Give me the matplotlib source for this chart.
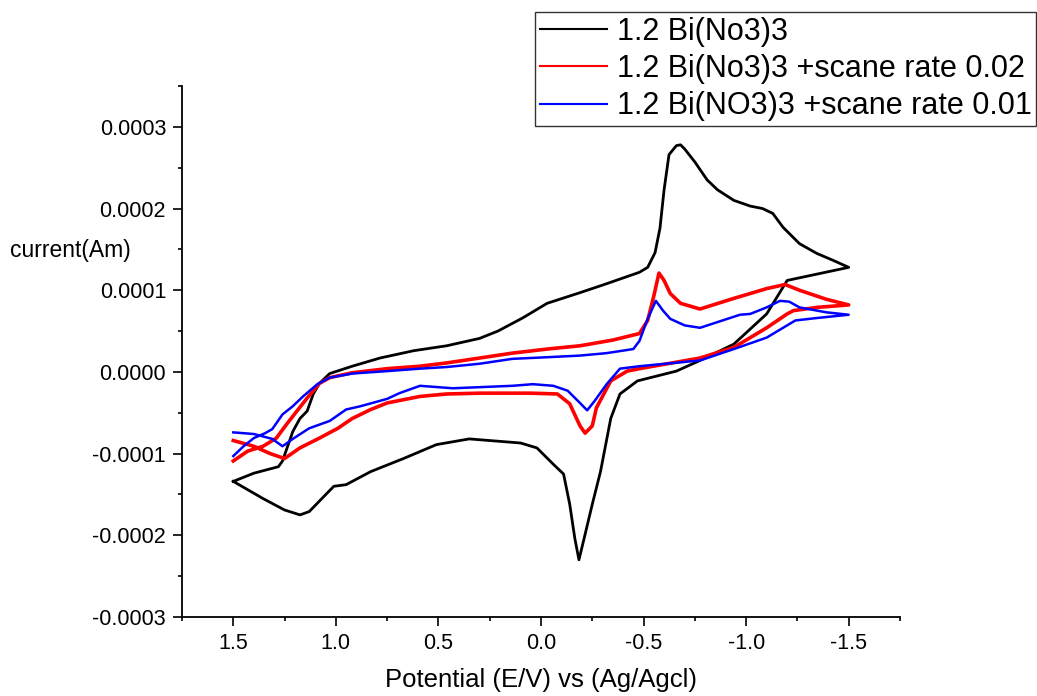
import matplotlib
matplotlib.use("Agg")
import matplotlib.pyplot as plt
from matplotlib.ticker import MultipleLocator, FormatStrFormatter

plt.rcParams['font.family'] = ['Liberation Sans', 'DejaVu Sans']
plt.rcParams['axes.unicode_minus'] = False

black_E = [1.50, 1.40, 1.28, 1.26, 1.21, 1.175, 1.14, 1.11, 1.08, 1.03, 0.92, 0.785,
           0.62, 0.46, 0.30, 0.21, 0.09, -0.03, -0.19, -0.32, -0.48, -0.52, -0.556,
           -0.58, -0.60, -0.624, -0.66, -0.68, -0.70, -0.75, -0.81, -0.86, -0.94, -1.02, -1.08,
           -1.13, -1.18, -1.26, -1.345, -1.42, -1.50, -1.20, -1.10, -0.94, -0.775, -0.66,
           -0.47, -0.385, -0.34, -0.29, -0.25, -0.21, -0.185, -0.165, -0.14, -0.11, -0.06,
           0.02, 0.10, 0.20, 0.35, 0.51, 0.67, 0.83, 0.95, 1.01, 1.13, 1.175, 1.25, 1.355, 1.50]
black_I = [-1.34, -1.24, -1.16, -1.09, -0.73, -0.57, -0.48, -0.27, -0.14, -0.02, 0.07, 0.17,
           0.26, 0.32, 0.41, 0.50, 0.66, 0.84, 0.97, 1.08, 1.22, 1.28, 1.46,
           1.76, 2.23, 2.66, 2.77, 2.78, 2.73, 2.57, 2.35, 2.23, 2.10, 2.03, 2.00,
           1.94, 1.77, 1.57, 1.45, 1.37, 1.28, 1.12, 0.71, 0.34, 0.14, 0.01,
           -0.11, -0.27, -0.57, -1.22, -1.62, -2.04, -2.30, -2.04, -1.62, -1.25, -1.13,
           -0.93, -0.87, -0.85, -0.82, -0.89, -1.06, -1.22, -1.38, -1.40, -1.71, -1.75, -1.69, -1.55, -1.34]

red_E = [1.50, 1.43, 1.355, 1.29, 1.24, 1.19, 1.14, 1.08, 1.03, 0.92, 0.75, 0.59, 0.46,
         0.30, 0.14, -0.03, -0.19, -0.35, -0.48, -0.52, -0.55, -0.575, -0.60, -0.63, -0.68,
         -0.775, -0.94, -1.10, -1.19, -1.26, -1.39, -1.50, -1.345, -1.23, -1.20, -1.10,
         -0.94, -0.775, -0.48, -0.42, -0.34, -0.27, -0.25, -0.215, -0.19, -0.14, -0.08,
         0.05, 0.30, 0.46, 0.59, 0.75, 0.83, 0.92, 0.99, 1.08, 1.175, 1.25, 1.32, 1.40, 1.50]
red_I = [-1.09, -0.97, -0.91, -0.81, -0.64, -0.48, -0.32, -0.14, -0.07, -0.01, 0.04, 0.07, 0.11,
         0.17, 0.23, 0.28, 0.32, 0.39, 0.47, 0.63, 0.93, 1.21, 1.12, 0.96, 0.84,
         0.77, 0.90, 1.02, 1.07, 1.00, 0.89, 0.82, 0.79, 0.75, 0.71, 0.54,
         0.30, 0.17, 0.04, 0.01, -0.11, -0.44, -0.66, -0.75, -0.66, -0.39, -0.27,
         -0.26, -0.26, -0.27, -0.30, -0.38, -0.46, -0.57, -0.69, -0.81, -0.93, -1.06, -1.00, -0.91, -0.84]

blue_E = [1.50, 1.45, 1.40, 1.345, 1.31, 1.26, 1.21, 1.16, 1.09, 1.03, 0.92, 0.75, 0.59,
          0.46, 0.30, 0.14, -0.03, -0.19, -0.32, -0.45, -0.48, -0.52, -0.56, -0.595, -0.63,
          -0.70, -0.775, -0.97, -1.02, -1.10, -1.165, -1.21, -1.26, -1.39, -1.50, -1.345,
          -1.24, -1.18, -1.10, -0.94, -0.775, -0.48, -0.385, -0.32, -0.26, -0.225, -0.19,
          -0.13, -0.06, 0.04, 0.14, 0.43, 0.59, 0.69, 0.75, 0.88, 0.95, 1.03, 1.13, 1.21,
          1.26, 1.31, 1.40, 1.50]
blue_I = [-1.03, -0.91, -0.81, -0.75, -0.70, -0.52, -0.42, -0.30, -0.15, -0.07, -0.02, 0.01, 0.04,
          0.06, 0.10, 0.16, 0.18, 0.20, 0.23, 0.28, 0.38, 0.65, 0.87, 0.75, 0.65,
          0.57, 0.54, 0.70, 0.71, 0.79, 0.87, 0.86, 0.79, 0.73, 0.70, 0.66,
          0.63, 0.54, 0.42, 0.28, 0.14, 0.07, 0.04, -0.15, -0.36, -0.47, -0.38,
          -0.23, -0.17, -0.15, -0.17, -0.20, -0.17, -0.26, -0.33, -0.42, -0.46, -0.60, -0.69, -0.82,
          -0.91, -0.82, -0.76, -0.74]

labels = ["1.2 Bi(No3)3", "1.2 Bi(No3)3 +scane rate 0.02", "1.2 Bi(NO3)3 +scane rate 0.01"]

fig = plt.figure(figsize=(10.37, 6.96), dpi=100)
ax = fig.add_axes([182 / 1037, 1 - 617 / 696, 718 / 1037, 531 / 696])

ax.plot(black_E, [v * 1e-4 for v in black_I], color='black', lw=2.0, label=labels[0])
ax.plot(red_E, [v * 1e-4 for v in red_I], color='#ff0000', lw=2.6, label=labels[1])
ax.plot(blue_E, [v * 1e-4 for v in blue_I], color='#0000ff', lw=1.8, label=labels[2])

ax.set_xlim(1.75, -1.75)
ax.set_ylim(-0.0003, 0.00035)
ax.xaxis.set_major_locator(MultipleLocator(0.5))
ax.xaxis.set_minor_locator(MultipleLocator(0.25))
ax.yaxis.set_major_locator(MultipleLocator(0.0001))
ax.yaxis.set_minor_locator(MultipleLocator(0.00005))
ax.xaxis.set_major_formatter(FormatStrFormatter('%.1f'))
ax.yaxis.set_major_formatter(FormatStrFormatter('%.4f'))

for side in ['top', 'right']:
    ax.spines[side].set_visible(False)
for side in ['left', 'bottom']:
    ax.spines[side].set_linewidth(1.3)

ax.tick_params(which='major', direction='out', length=6.5, width=1.2, labelsize=15.5, pad=5)
ax.tick_params(which='minor', direction='out', length=3, width=1.2)

ax.set_xlabel("Potential (E/V) vs (Ag/Agcl)", fontsize=18.5, labelpad=10)
fig.text(10 / 1037, 1 - 250 / 696, "current(Am)", fontsize=16.5, ha='left', va='center')

leg = fig.legend(loc='upper left', bbox_to_anchor=(535 / 1037, 1 - 12 / 696),
                 fontsize=22, frameon=True, fancybox=False, framealpha=1,
                 edgecolor='#333333', handlelength=2.2, handletextpad=0.33,
                 labelspacing=0.24, borderpad=0.15, borderaxespad=0)
leg.get_frame().set_linewidth(1.0)
for h in leg.get_lines():
    h.set_linewidth(1.5)

fig.savefig("out.png", dpi=100)
